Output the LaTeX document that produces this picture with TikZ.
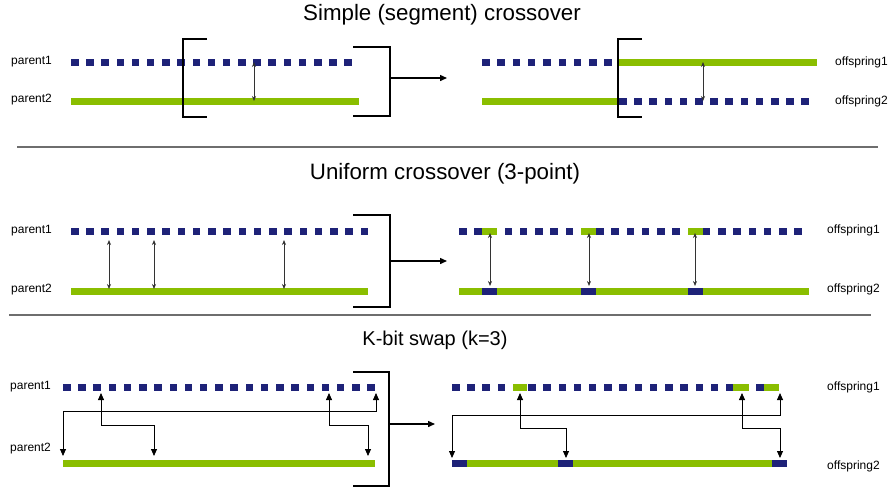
\documentclass[tikz,border=0pt]{standalone}
\usepackage{fontspec}
\setmainfont{Liberation Sans}
\usetikzlibrary{arrows.meta}
\definecolor{navy}{RGB}{30,34,120}
\definecolor{lgreen}{RGB}{138,190,0}
\definecolor{sepgray}{RGB}{110,110,110}
% dotted chromosome row: x0, y, count, pitch
\newcommand\dotrow[4]{\foreach \i in {1,...,#3} \fill[navy] ({#1+(\i-1)*#4},{#2-3.5}) rectangle ++(7.5,7);}
% solid segment: colour, x1, x2, y
\newcommand\segrow[4]{\fill[#1] (#2,{#4-3.5}) rectangle (#3,{#4+3.5});}
\begin{document}
\begin{tikzpicture}[x=1pt,y=-1pt,
  lbl/.style={font=\fontsize{12}{14}\selectfont, anchor=west, inner sep=0pt},
  ttl/.style={font=\fontsize{22.3}{26}\selectfont, inner sep=0pt},
  brk/.style={line width=2.4pt, line cap=butt},
  thinarrow/.style={<->, line width=0.7pt, draw=black!80, >={Stealth[length=5pt,width=4pt]}},
  swaparrow/.style={<->, line width=0.8pt, >={Triangle[length=7pt,width=6pt]}},
  bigarrow/.style={-{Triangle[length=7pt,width=6pt]}, line width=1.4pt},
  sep/.style={line width=1.6pt, sepgray}
]
\useasboundingbox (0,0) rectangle (888,488);

% ---------------- titles and separators ----------------
\node[ttl] (t1) at (442,15) {Simple (segment) crossover};
\node[ttl] (t2) at (445,174) {Uniform crossover (3-point)};
\node[ttl, font=\fontsize{20}{24}\selectfont] (t3) at (435,340) {K-bit swap (k=3)};
\coordinate (s1a) at (17,147); \coordinate (s1b) at (878,147);
\coordinate (s2a) at (9,315);  \coordinate (s2b) at (871,315);
\draw[sep] (s1a) -- (s1b);
\draw[sep] (s2a) -- (s2b);

% ---------------- section 1 ----------------
\node[lbl] (p1a) at (11,62) {parent1};
\node[lbl] (p2a) at (11,100) {parent2};
\node[lbl] (o1a) at (835,62) {offspring1};
\node[lbl] (o2a) at (835,101) {offspring2};
\dotrow{71}{62}{19}{15.19}
\segrow{lgreen}{71}{359}{101}
\dotrow{482}{62}{9}{15.3}
\segrow{lgreen}{619}{817}{62}
\segrow{lgreen}{482}{619}{101}
\dotrow{619}{101}{13}{15.2}
\draw[brk] (207,39) -- (183,39) -- (183,117) -- (207,117);
\draw[brk] (642,39) -- (618,39) -- (618,117) -- (642,117);
\draw[brk] (353,47) -- (390,47) -- (390,116) -- (353,116);
\coordinate (b1) at (390,78); \coordinate (r1) at (447,78);
\draw[bigarrow] (b1) -- (r1);
\coordinate (x1t) at (254,62); \coordinate (x1b) at (254,101);
\draw[thinarrow] (x1t) -- (x1b);
\coordinate (y1t) at (703,62); \coordinate (y1b) at (703,101);
\draw[thinarrow] (y1t) -- (y1b);

% ---------------- section 2 ----------------
\node[lbl] (p1b) at (11,231) {parent1};
\node[lbl] (p2b) at (11,290) {parent2};
\node[lbl] (o1b) at (827,230) {offspring1};
\node[lbl] (o2b) at (827,289) {offspring2};
\dotrow{71}{231}{20}{15.24}
\segrow{lgreen}{71}{368}{291}
\dotrow{459}{231}{23}{15.24}
\segrow{lgreen}{482}{497}{231}
\segrow{lgreen}{581}{596}{231}
\segrow{lgreen}{688}{703}{231}
\segrow{lgreen}{459}{809}{291}
\segrow{navy}{482}{497}{291}
\segrow{navy}{581}{596}{291}
\segrow{navy}{688}{703}{291}
\draw[brk] (353,215) -- (390,215) -- (390,307) -- (353,307);
\coordinate (b2) at (390,261); \coordinate (r2) at (447,261);
\draw[bigarrow] (b2) -- (r2);
\foreach \xx/\nm in {109/a,154/b,284/c}{
  \coordinate (u\nm t) at (\xx,240); \coordinate (u\nm b) at (\xx,289);
  \draw[thinarrow] (u\nm t) -- (u\nm b);
}
\foreach \xx/\nm in {490/a,589/b,695/c}{
  \coordinate (v\nm t) at (\xx,233); \coordinate (v\nm b) at (\xx,286);
  \draw[thinarrow] (v\nm t) -- (v\nm b);
}

% ---------------- section 3 ----------------
\node[lbl] (p1c) at (10,387) {parent1};
\node[lbl] (p2c) at (10,449) {parent2};
\node[lbl] (o1c) at (827,387) {offspring1};
\node[lbl] (o2c) at (827,466) {offspring2};
\dotrow{63}{387}{21}{15.22}
\segrow{lgreen}{63}{375}{463}
\dotrow{452}{387}{22}{15.22}
\segrow{lgreen}{512.9}{527.3}{387}
\segrow{lgreen}{733.3}{748.7}{387}
\segrow{lgreen}{763.9}{779.1}{387}
\segrow{lgreen}{452}{787}{463}
\segrow{navy}{452}{467}{463}
\segrow{navy}{558}{573}{463}
\segrow{navy}{772}{787}{463}
\draw[brk] (353,372) -- (389,372) -- (389,486) -- (353,486);
\coordinate (b3) at (389,424); \coordinate (r3) at (435,424);
\draw[bigarrow] (b3) -- (r3);
% left swaps
\coordinate (kat) at (376,393); \coordinate (kab) at (63,456);
\draw[swaparrow] (kat) -- ++(0,18) -| (kab);
\coordinate (kbt) at (101,393); \coordinate (kbb) at (154,456);
\draw[swaparrow] (kbt) -- ++(0,32) -| (kbb);
\coordinate (kct) at (329,393); \coordinate (kcb) at (368,456);
\draw[swaparrow] (kct) -- ++(0,32) -| (kcb);
% right swaps
\coordinate (mat) at (780,393); \coordinate (mab) at (452,458);
\draw[swaparrow] (mat) -- ++(0,22) -| (mab);
\coordinate (mbt) at (520,393); \coordinate (mbb) at (566,458);
\draw[swaparrow] (mbt) -- ++(0,35) -| (mbb);
\coordinate (mct) at (742,393); \coordinate (mcb) at (780,458);
\draw[swaparrow] (mct) -- ++(0,35) -| (mcb);
\end{tikzpicture}
\end{document}
